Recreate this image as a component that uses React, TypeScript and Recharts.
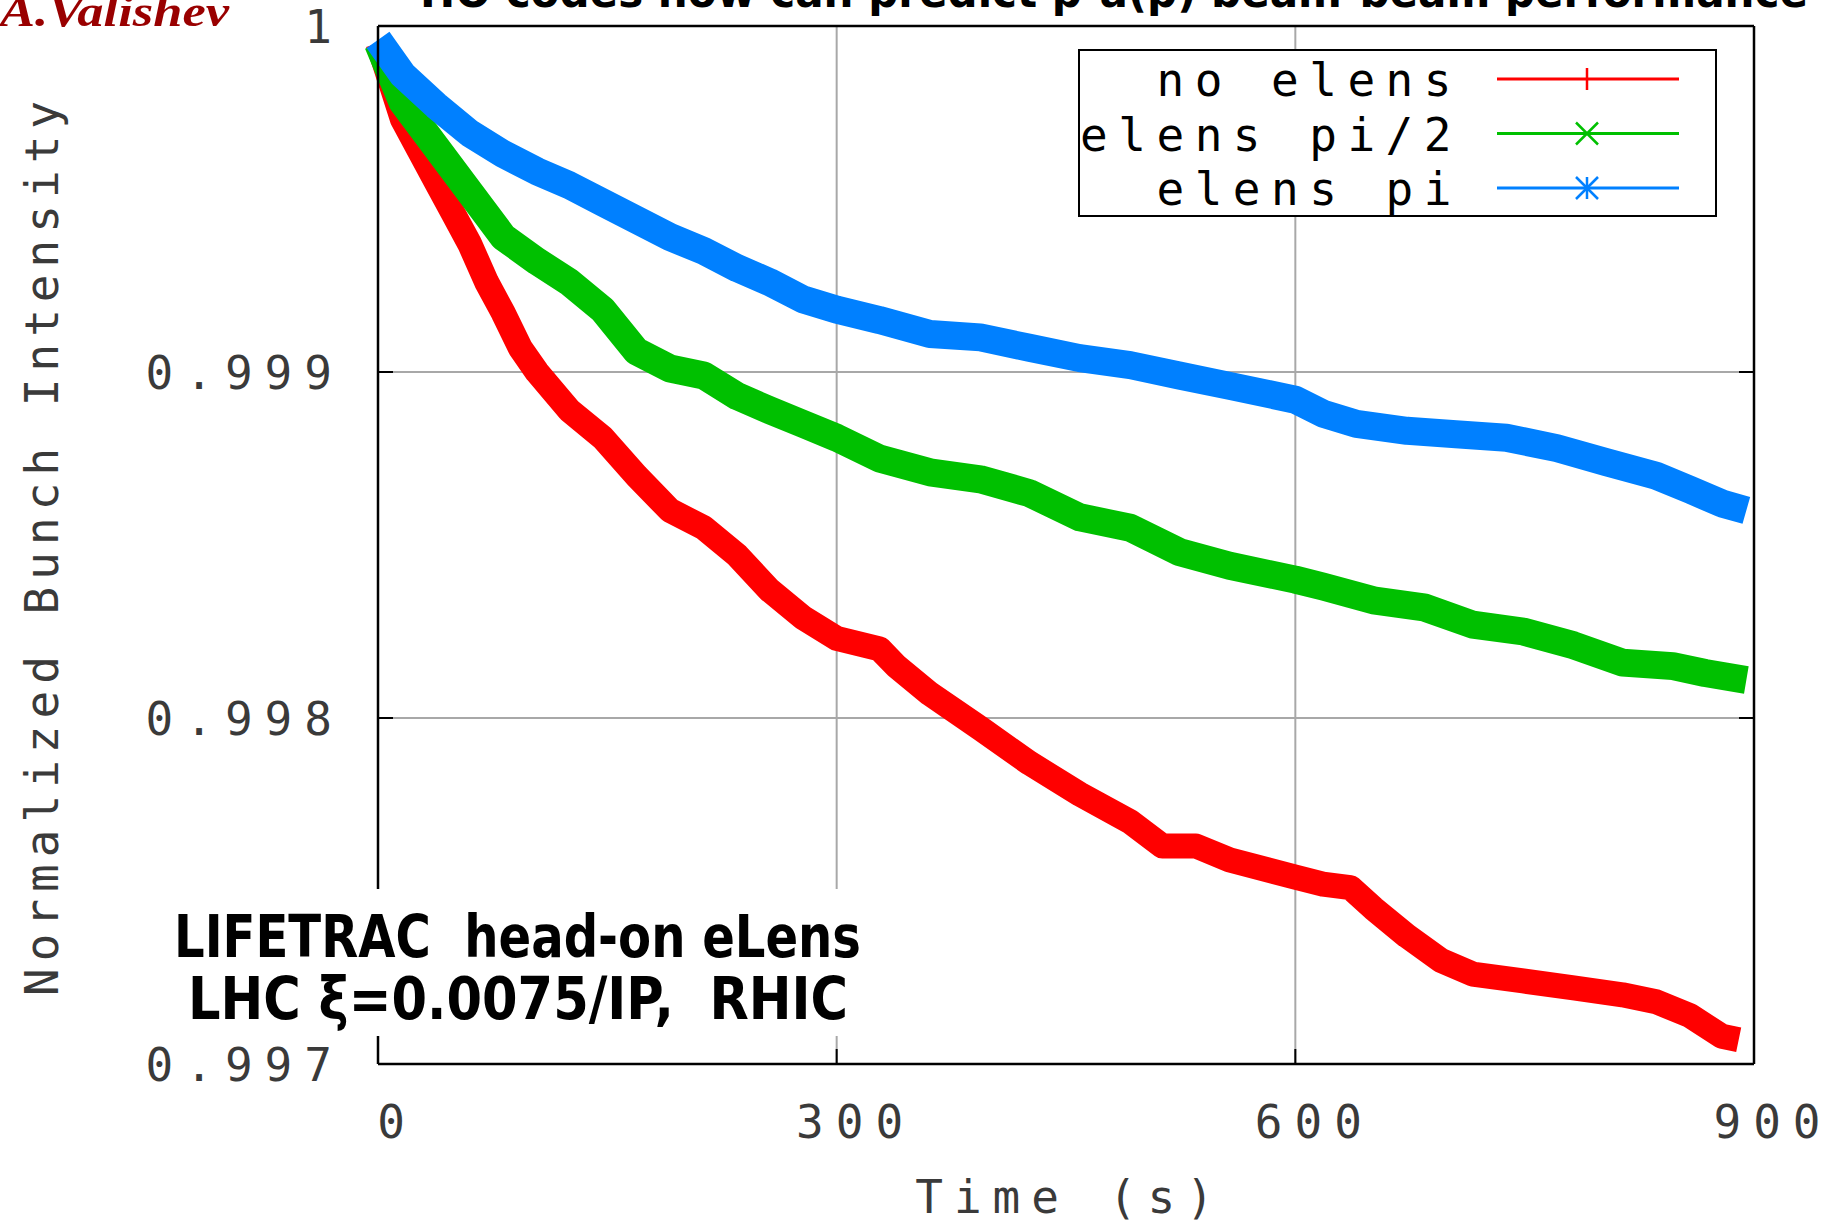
import React from "react";
import { LineChart, Line, XAxis, YAxis, CartesianGrid, Legend } from "recharts";

// ---- data ----
const timeTicks = [0, 300, 600, 900];
const intensityTicks = [0.997, 0.998, 0.999, 1];
const seriesNames = ["no elens", "elens pi/2", "elens pi"];

const noElensTime = [
  0, 16, 27, 38, 49, 60, 71, 82, 93, 104, 125, 147, 169, 191, 213, 235, 256,
  278, 300, 328, 339, 361, 394, 426, 459, 492, 513, 535, 557, 600, 618, 636,
  651, 673, 695, 716, 749, 782, 814, 836, 858, 879, 890,
];
const noElensValue = [
  0.99995, 0.99973, 0.99964, 0.99955, 0.99946, 0.99937, 0.99926, 0.99917,
  0.99907, 0.999, 0.99889, 0.99881, 0.9987, 0.9986, 0.99855, 0.99847, 0.99837,
  0.99829, 0.99823, 0.9982, 0.99815, 0.99807, 0.99797, 0.99787, 0.99778,
  0.9977, 0.99763, 0.99763, 0.99759, 0.99754, 0.99752, 0.99751, 0.99745,
  0.99737, 0.9973, 0.99726, 0.99724, 0.99722, 0.9972, 0.99718, 0.99714,
  0.99708, 0.99707,
];

const halfPiTime = [
  0, 16, 38, 60, 82, 104, 125, 147, 169, 191, 213, 235, 256, 278, 300, 328,
  361, 394, 426, 459, 492, 524, 557, 600, 618, 651, 684, 716, 749, 782, 814,
  847, 868, 895,
];
const halfPiValue = [
  0.99995, 0.99978, 0.99965, 0.99952, 0.99939, 0.99932, 0.99926, 0.99918,
  0.99906, 0.99901, 0.99899, 0.99893, 0.99889, 0.99885, 0.99881, 0.99875,
  0.99871, 0.99869, 0.99865, 0.99858, 0.99855, 0.99848, 0.99844, 0.9984,
  0.99838, 0.99834, 0.99832, 0.99827, 0.99825, 0.99821, 0.99816, 0.99815,
  0.99813, 0.99811,
];

const piTime = [
  0, 16, 38, 60, 82, 104, 125, 147, 169, 191, 213, 235, 256, 278, 300, 328,
  361, 394, 426, 459, 492, 524, 557, 600, 618, 640, 673, 705, 738, 771, 803,
  836, 858, 879, 895,
];
const piValue = [
  0.99996, 0.99986, 0.99977, 0.99969, 0.99963, 0.99958, 0.99954, 0.99949,
  0.99944, 0.99939, 0.99935, 0.9993, 0.99926, 0.99921, 0.99918, 0.99915,
  0.99911, 0.9991, 0.99907, 0.99904, 0.99902, 0.99899, 0.99896, 0.99892,
  0.99888, 0.99885, 0.99883, 0.99882, 0.99881, 0.99878, 0.99874, 0.9987,
  0.99866, 0.99862, 0.9986,
];

const toPoints = (t: number[], v: number[]) =>
  t.map((time, i) => ({ time, value: v[i] }));

const noElens = toPoints(noElensTime, noElensValue);
const halfPi = toPoints(halfPiTime, halfPiValue);
const pi = toPoints(piTime, piValue);

const RED = "#ff0000";
const GREEN = "#00c000";
const BLUE = "#0080ff";

const monoFont = "'DejaVu Sans Mono', 'Liberation Mono', monospace";
const labelColor = "#3a3a3a";

const formatY = (v: number) => (v === 1 ? "1" : v.toFixed(3));

// ---- axis ticks (gnuplot style: short inward marks) ----
const BottomTick = (props: any) => {
  const { x, y, payload } = props;
  return (
    <g>
      <line x1={x} y1={y} x2={x} y2={y - 15} stroke="#000" strokeWidth={2} />
      <text
        x={x + 19}
        y={y + 74}
        textAnchor="middle"
        fontFamily={monoFont}
        fontSize={46}
        fill={labelColor}
        style={{ letterSpacing: 12 }}
      >
        {payload.value}
      </text>
    </g>
  );
};

const LeftTick = (props: any) => {
  const { x, y, payload } = props;
  return (
    <g>
      <line x1={x} y1={y} x2={x + 15} y2={y} stroke="#000" strokeWidth={2} />
      <text
        x={x - 34}
        y={y + 17}
        textAnchor="end"
        fontFamily={monoFont}
        fontSize={46}
        fill={labelColor}
        style={{ letterSpacing: 12 }}
      >
        {formatY(payload.value)}
      </text>
    </g>
  );
};

const TopTick = (props: any) => {
  const { x, y } = props;
  return <line x1={x} y1={y} x2={x} y2={y + 15} stroke="#000" strokeWidth={2} />;
};

const RightTick = (props: any) => {
  const { x, y } = props;
  return <line x1={x} y1={y} x2={x - 15} y2={y} stroke="#000" strokeWidth={2} />;
};

// ---- legend ----
const Marker = ({ kind, cx, cy, color }: any) => {
  const s = 11;
  if (kind === "plus")
    return <line x1={cx} y1={cy - s} x2={cx} y2={cy + s} stroke={color} strokeWidth={2.5} />;
  if (kind === "cross")
    return (
      <g stroke={color} strokeWidth={2.5}>
        <line x1={cx - s} y1={cy - s} x2={cx + s} y2={cy + s} />
        <line x1={cx - s} y1={cy + s} x2={cx + s} y2={cy - s} />
      </g>
    );
  return (
    <g stroke={color} strokeWidth={2.5}>
      <line x1={cx} y1={cy - s} x2={cx} y2={cy + s} />
      <line x1={cx - s} y1={cy - s} x2={cx + s} y2={cy + s} />
      <line x1={cx - s} y1={cy + s} x2={cx + s} y2={cy - s} />
    </g>
  );
};

const markerKinds: Record<string, string> = {
  "no elens": "plus",
  "elens pi/2": "cross",
  "elens pi": "star",
};

const renderLegend = (props: any) => {
  const items = [...(props.payload || [])].sort(
    (a: any, b: any) => seriesNames.indexOf(a.value) - seriesNames.indexOf(b.value)
  );
  return (
    <svg width={639} height={168} style={{ display: "block" }}>
      <rect x={1} y={1} width={637} height={166} fill="#fff" stroke="#000" strokeWidth={2} />
      {items.map((entry: any, i: number) => {
        const cy = 30 + i * 54.5;
        return (
          <g key={entry.value}>
            <text
              x={384}
              y={cy + 17}
              textAnchor="end"
              fontFamily={monoFont}
              fontSize={46}
              fill="#000"
              style={{ letterSpacing: 10.5, whiteSpace: "pre" }}
            >
              {entry.value}
            </text>
            <line x1={419} y1={cy} x2={601} y2={cy} stroke={entry.color} strokeWidth={3} />
            <Marker kind={markerKinds[entry.value] || "plus"} cx={509} cy={cy} color={entry.color} />
          </g>
        );
      })}
    </svg>
  );
};

const App: React.FC = () => {
  return (
    <div style={{ position: "absolute", left: 0, top: 0, width: 1841, height: 1224, background: "#fff" }}>
      <LineChart
        width={1841}
        height={1224}
        margin={{ top: 0, right: 0, bottom: 0, left: 0 }}
      >
        <CartesianGrid stroke="#a8a8a8" strokeWidth={2} />

        <XAxis
          dataKey="time"
          type="number"
          domain={[0, 900]}
          ticks={timeTicks}
          height={160}
          axisLine={{ stroke: "#000", strokeWidth: 2.5 }}
          tickLine={false}
          tickSize={0}
          tickMargin={0}
          tick={<BottomTick />}
          label={({ viewBox }: any) => (
            <text
              x={viewBox.x + viewBox.width / 2 + 4}
              y={viewBox.y + 149}
              textAnchor="middle"
              fontFamily={monoFont}
              fontSize={46}
              fill={labelColor}
              style={{ letterSpacing: 11, whiteSpace: "pre" }}
            >
              Time (s)
            </text>
          )}
        />
        <XAxis
          xAxisId="top"
          orientation="top"
          type="number"
          domain={[0, 900]}
          ticks={timeTicks}
          height={26}
          axisLine={{ stroke: "#000", strokeWidth: 2.5 }}
          tickLine={false}
          tickSize={0}
          tickMargin={0}
          tick={<TopTick />}
          allowDataOverflow
        />
        <YAxis
          type="number"
          domain={[0.997, 1]}
          ticks={intensityTicks}
          width={378}
          allowDataOverflow
          axisLine={{ stroke: "#000", strokeWidth: 2.5 }}
          tickLine={false}
          tickSize={0}
          tickMargin={0}
          tick={<LeftTick />}
          label={({ viewBox }: any) => {
            const cx = viewBox.x + 42;
            const cy = viewBox.y + viewBox.height / 2;
            return (
              <text
                x={cx}
                y={cy}
                transform={`rotate(-90, ${cx}, ${cy})`}
                textAnchor="middle"
                dominantBaseline="central"
                fontFamily={monoFont}
                fontSize={46}
                fill={labelColor}
                style={{ letterSpacing: 7, whiteSpace: "pre" }}
              >
                Normalized Bunch Intensity
              </text>
            );
          }}
        />
        <YAxis
          yAxisId="right"
          orientation="right"
          type="number"
          domain={[0.997, 1]}
          ticks={intensityTicks}
          width={87}
          allowDataOverflow
          axisLine={{ stroke: "#000", strokeWidth: 2.5 }}
          tickLine={false}
          tickSize={0}
          tickMargin={0}
          tick={<RightTick />}
        />

        <Legend
          layout="horizontal"
          align="center"
          verticalAlign="middle"
          content={renderLegend}
          wrapperStyle={{ position: "absolute", left: 1078, top: 49, width: 639, height: 168 }}
        />

        <Line
          data={noElens}
          dataKey="value"
          name="no elens"
          stroke={RED}
          strokeWidth={25}
          strokeLinejoin="round"
          dot={false}
          activeDot={false}
          type="linear"
          isAnimationActive={false}
        />
        <Line
          data={halfPi}
          dataKey="value"
          name="elens pi/2"
          stroke={GREEN}
          strokeWidth={28}
          strokeLinejoin="round"
          dot={false}
          activeDot={false}
          type="linear"
          isAnimationActive={false}
        />
        <Line
          data={pi}
          dataKey="value"
          name="elens pi"
          stroke={BLUE}
          strokeWidth={28}
          strokeLinejoin="round"
          dot={false}
          activeDot={false}
          type="linear"
          isAnimationActive={false}
        />
      </LineChart>

      {/* overlay texts: cropped slide title, author, annotation */}
      <svg
        width={1841}
        height={1224}
        style={{ position: "absolute", left: 0, top: 0, pointerEvents: "none" }}
      >
        <text
          x={420}
          y={7}
          fontFamily="'DejaVu Sans', sans-serif"
          fontWeight="bold"
          fontSize={44}
          fill="#000"
          textLength={1388}
          lengthAdjust="spacingAndGlyphs"
        >
          HO codes now can predict p-a(p) beam-beam performance
        </text>
        <text
          x={0}
          y={26}
          fontFamily="'Liberation Serif', serif"
          fontWeight="bold"
          fontStyle="italic"
          fontSize={44}
          fill="#990000"
          textLength={229}
          lengthAdjust="spacingAndGlyphs"
        >
          A.Valishev
        </text>

        <rect x={165} y={889} width={705} height={147} fill="#fff" />
        <text
          x={174}
          y={957}
          fontFamily="'DejaVu Sans', sans-serif"
          fontWeight="bold"
          fontSize={58}
          fill="#000"
          textLength={687}
          lengthAdjust="spacingAndGlyphs"
          style={{ whiteSpace: "pre" }}
        >
          LIFETRAC  head-on eLens
        </text>
        <text
          x={188}
          y={1019}
          fontFamily="'DejaVu Sans', sans-serif"
          fontWeight="bold"
          fontSize={58}
          fill="#000"
          textLength={660}
          lengthAdjust="spacingAndGlyphs"
          style={{ whiteSpace: "pre" }}
        >
          LHC ξ=0.0075/IP,  RHIC
        </text>
      </svg>
    </div>
  );
};

export default App;
